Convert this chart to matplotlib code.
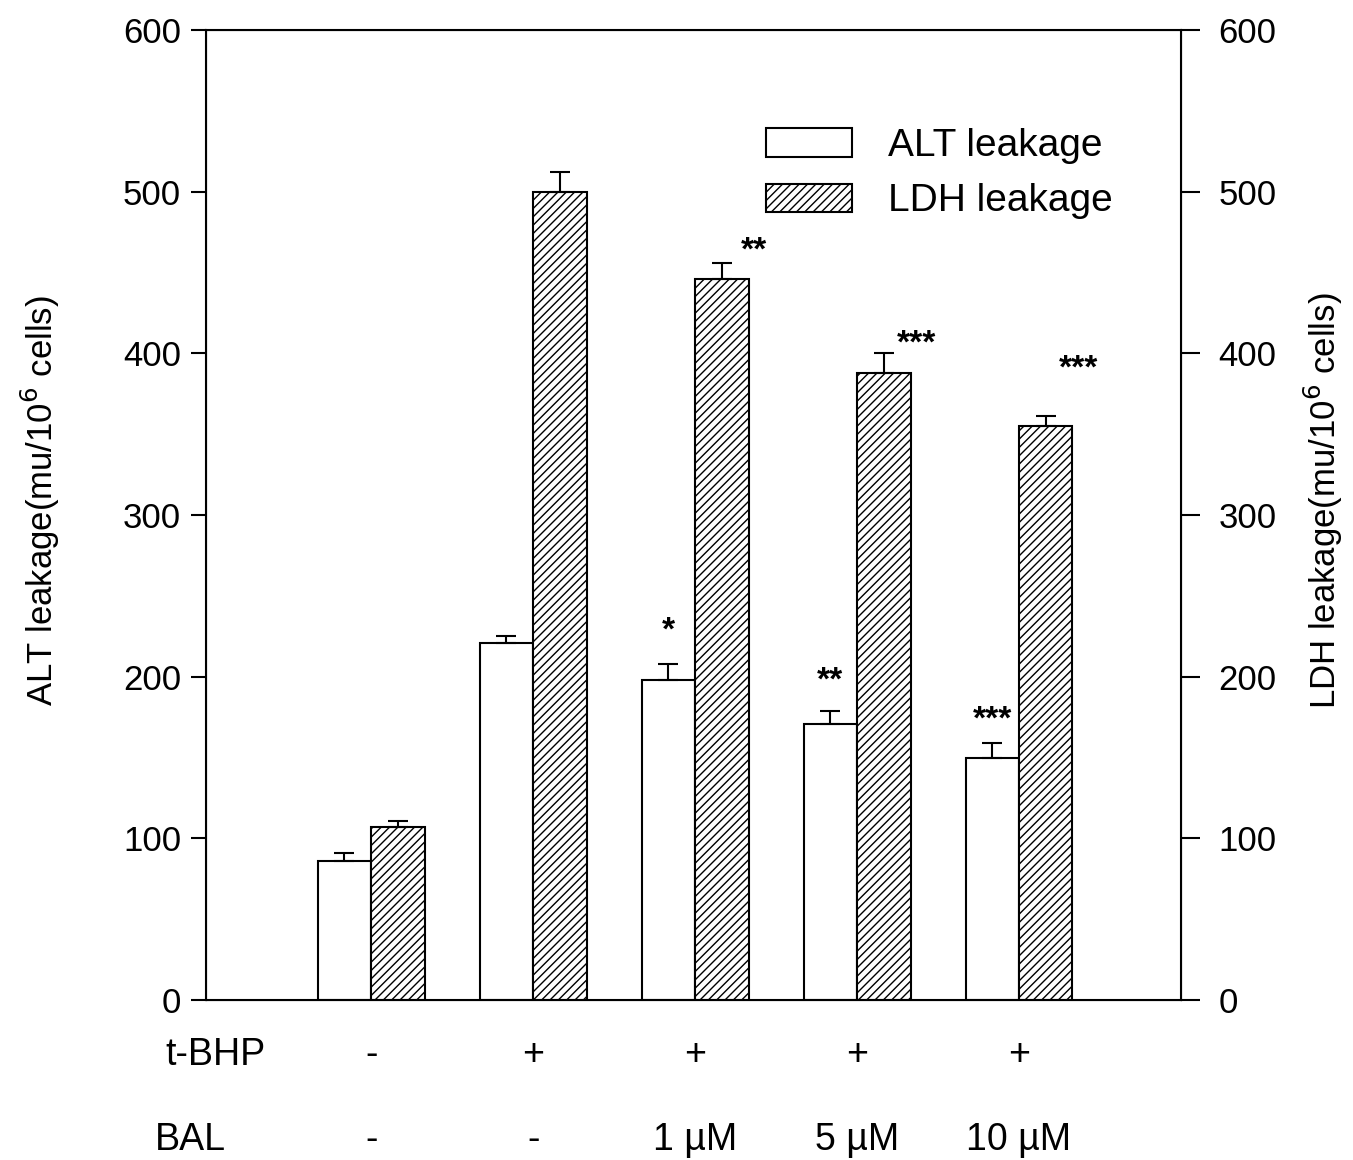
import numpy as np
import matplotlib
matplotlib.use('Agg')
import matplotlib.pyplot as plt
from matplotlib.patches import Patch

plt.rcParams['font.family'] = ['Liberation Sans', 'DejaVu Sans']
plt.rcParams['hatch.linewidth'] = 1.0

# Data
tbhp = ['-', '+', '+', '+', '+']
bal = ['-', '-', '1 \u00b5M', '5 \u00b5M', '10 \u00b5M']
alt = [86, 221, 198, 171, 150]
alt_err = [5, 4, 10, 8, 9]
ldh = [107, 500, 446, 388, 355]
ldh_err = [4, 12, 10, 12, 6]
alt_stars = ['', '', '*', '**', '***']
ldh_stars = ['', '', '**', '***', '***']
alt_star_y = [0, 0, 228, 197, 173]
ldh_star_y = [0, 0, 463, 406, 390]

x = np.arange(1, 6)
w = 0.33

fig = plt.figure(figsize=(13.53, 11.6), dpi=100)
ax = fig.add_axes([206/1353, 1 - 1000/1160, 975/1353, 970/1160])

ax.bar(x - w/2, alt, w, color='white', edgecolor='black', linewidth=1.5, zorder=2)
ax.bar(x + w/2, ldh, w, color='white', edgecolor='black', linewidth=1.5,
       hatch='////', zorder=2)
ax.errorbar(x - w/2, alt, yerr=[np.zeros(5), alt_err], fmt='none', ecolor='black',
            elinewidth=1.5, capsize=7, capthick=1.5, zorder=3)
ax.errorbar(x + w/2, ldh, yerr=[np.zeros(5), ldh_err], fmt='none', ecolor='black',
            elinewidth=1.5, capsize=7, capthick=1.5, zorder=3)

# significance stars
for i in range(5):
    if alt_stars[i]:
        ax.text(x[i] - w/2, alt_star_y[i], alt_stars[i], ha='center', va='center',
                fontsize=24, fontweight='bold')
    if ldh_stars[i]:
        ax.text(x[i] + w/2 + 0.2, ldh_star_y[i], ldh_stars[i], ha='center', va='center',
                fontsize=24, fontweight='bold')

ax.set_xlim(-0.02, 6.0)
ax.set_ylim(0, 600)
ax.set_yticks([0, 100, 200, 300, 400, 500, 600])
ax.set_xticks([])
for s in ax.spines.values():
    s.set_linewidth(1.5)
ax.tick_params(axis='y', labelsize=25, length=11, width=1.5, pad=7)
ax.set_ylabel('ALT leakage(mu/10$^6$ cells)', fontsize=25, ha='center', va='center')
ax.yaxis.set_label_coords(-0.17, 0.515)

ax2 = ax.twinx()
ax2.set_ylim(0, 600)
ax2.set_yticks([0, 100, 200, 300, 400, 500, 600])
ax2.tick_params(axis='y', labelsize=25, length=14, width=1.5, pad=13)
ax2.set_ylabel('LDH leakage(mu/10$^6$ cells)', fontsize=25, rotation=90,
               ha='center', va='center')
ax2.yaxis.set_label_coords(1.146, 0.515)

# treatment rows under the axis
fig.text(165/1353, 1 - 1055/1160, 't-BHP', fontsize=27, ha='left', va='center')
fig.text(155/1353, 1 - 1140/1160, 'BAL', fontsize=27, ha='left', va='center')
for i in range(5):
    ax.annotate(tbhp[i], xy=(x[i], 0), xycoords=('data', 'figure fraction'),
                xytext=(x[i], 1 - 1055/1160), textcoords=('data', 'figure fraction'),
                ha='center', va='center', fontsize=27)
    ax.annotate(bal[i], xy=(x[i], 0), xycoords=('data', 'figure fraction'),
                xytext=(x[i], 1 - 1140/1160), textcoords=('data', 'figure fraction'),
                ha='center', va='center', fontsize=27)

handles = [Patch(facecolor='white', edgecolor='black', linewidth=1.5, label='ALT leakage'),
           Patch(facecolor='white', edgecolor='black', linewidth=1.5, hatch='////',
                 label='LDH leakage')]
fig.legend(handles=handles, loc='upper left', bbox_to_anchor=(766/1353, 1 - 128/1160),
           frameon=False, fontsize=28, handlelength=2.2, handleheight=0.75,
           handletextpad=0.95, labelspacing=0.5, borderpad=0, borderaxespad=0)

fig.savefig('out.png', dpi=100)
